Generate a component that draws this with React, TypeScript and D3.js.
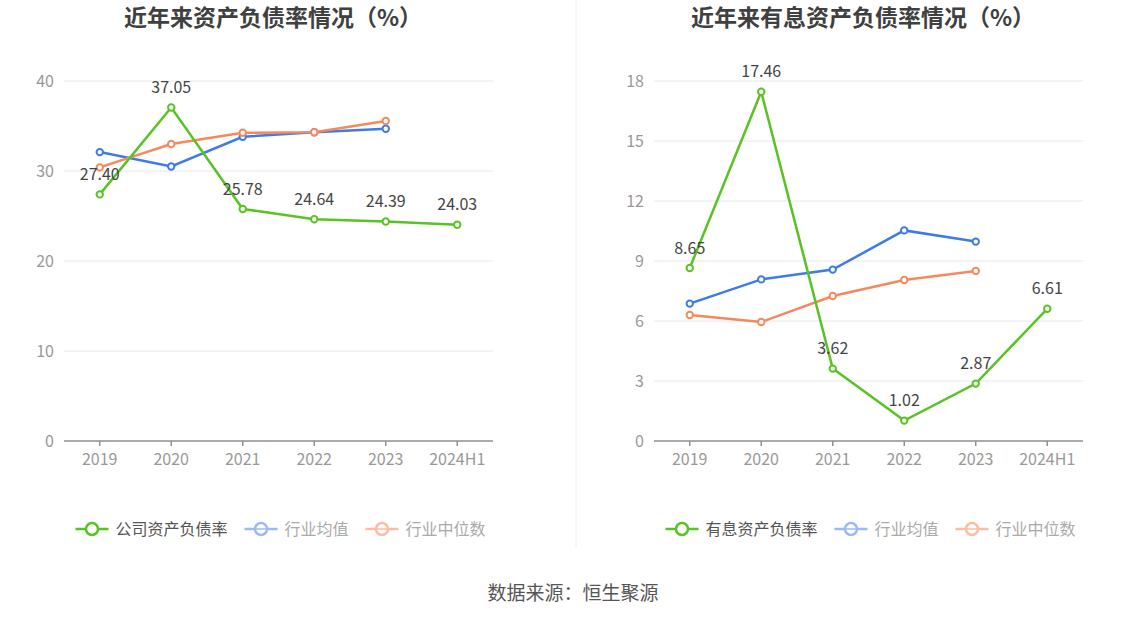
import React from "react";
import * as d3 from "d3";

const years = ["2019", "2020", "2021", "2022", "2023", "2024H1"];

// 左图：资产负债率
const debtRatio = [27.4, 37.05, 25.78, 24.64, 24.39, 24.03];
const debtAvg = [32.1, 30.5, 33.8, 34.3, 34.7];
const debtMedian = [30.4, 33.0, 34.25, 34.3, 35.55];
const debtTicks = [0, 10, 20, 30, 40];

// 右图：有息资产负债率
const interestRatio = [8.65, 17.46, 3.62, 1.02, 2.87, 6.61];
const interestAvg = [6.87, 8.08, 8.57, 10.53, 9.97];
const interestMedian = [6.3, 5.95, 7.25, 8.05, 8.5];
const interestTicks = [0, 3, 6, 9, 12, 15, 18];

const GREEN = "#58c322";
const BLUE = "#3d7be8";
const ORANGE = "#f6895c";
const FONT = "'Noto Sans CJK SC', 'Noto Sans', sans-serif";

interface PanelProps {
  x0: number;
  title: string;
  titleX: number;
  mainName: string;
  main: number[];
  avg: number[];
  median: number[];
  ticks: number[];
}

function Panel({ x0, title, titleX, mainName, main, avg, median, ticks }: PanelProps) {
  const top = 81;
  const bottom = 441;
  const width = 429;
  const x = d3.scaleBand<string>().domain(years).range([x0, x0 + width]);
  const cx = (i: number) => (x(years[i]) as number) + x.bandwidth() / 2;
  const y = d3.scaleLinear().domain([0, ticks[ticks.length - 1]]).range([bottom, top]);

  const line = d3
    .line<number>()
    .x((_, i) => cx(i))
    .y((d) => y(d));

  const series = [
    { data: avg, color: BLUE },
    { data: median, color: ORANGE },
    { data: main, color: GREEN },
  ];

  const legendItems = [
    { name: mainName, color: GREEN, text: "#555", faded: false },
    { name: "行业均值", color: "#9cbaf4", text: "#aaa", faded: true },
    { name: "行业中位数", color: "#fbbda3", text: "#aaa", faded: true },
  ];
  const fs = 16;
  const itemW = legendItems.map((d) => 40 + d.name.length * fs);
  const total = d3.sum(itemW) + 17 * (legendItems.length - 1);
  let lx = x0 + width / 2 + 2 - total / 2;
  const legendPos = itemW.map((w) => {
    const p = lx;
    lx += w + 17;
    return p;
  });

  return (
    <g>
      <text
        x={titleX}
        y={18}
        dy="0.35em"
        textAnchor="middle"
        fontSize={23}
        fontWeight="bold"
        fill="#404040"
      >
        {title}
      </text>
      {ticks.map((t) => (
        <g key={t}>
          {t !== 0 && (
            <line x1={x0} x2={x0 + width} y1={y(t)} y2={y(t)} stroke="#e4e8f2" strokeWidth={1} />
          )}
          <text x={x0 - 10} y={y(t)} dy="0.35em" textAnchor="end" fontSize={16} fill="#999">
            {t}
          </text>
        </g>
      ))}
      <line x1={x0} x2={x0 + width} y1={bottom} y2={bottom} stroke="#8e8e9a" strokeWidth={1.5} />
      {years.map((yr, i) => (
        <g key={yr}>
          <line x1={cx(i)} x2={cx(i)} y1={bottom} y2={bottom + 5} stroke="#8e8e9a" strokeWidth={1.5} />
          <text x={cx(i)} y={bottom + 18} dy="0.35em" textAnchor="middle" fontSize={16} fill="#999">
            {yr}
          </text>
        </g>
      ))}
      {series.map((s, k) => (
        <g key={k}>
          <path d={line(s.data) || ""} fill="none" stroke={s.color} strokeWidth={2.5} />
          {s.data.map((v, i) => (
            <circle key={i} cx={cx(i)} cy={y(v)} r={3.2} fill="#fff" stroke={s.color} strokeWidth={2} />
          ))}
        </g>
      ))}
      {main.map((v, i) => (
        <text
          key={i}
          x={cx(i)}
          y={y(v) - 20}
          dy="0.35em"
          textAnchor="middle"
          fontSize={16}
          fill="#444"
        >
          {v.toFixed(2)}
        </text>
      ))}
      {legendItems.map((d, i) => {
        const p = legendPos[i];
        const ly = 529;
        return (
          <g key={d.name}>
            <line x1={p} x2={p + 33} y1={ly} y2={ly} stroke={d.color} strokeWidth={2.5} />
            <circle cx={p + 16.5} cy={ly} r={6} fill="#fff" stroke={d.color} strokeWidth={2.5} />
            {d.faded && <line x1={p + 11} x2={p + 22} y1={ly} y2={ly} stroke={d.color} strokeWidth={1.5} />}
            <text x={p + 40} y={ly} dy="0.35em" fontSize={fs} fill={d.text}>
              {d.name}
            </text>
          </g>
        );
      })}
    </g>
  );
}

export default function App() {
  return (
    <div style={{ position: "fixed", left: 0, top: 0 }}>
      <svg width={1147} height={619} fontFamily={FONT} style={{ display: "block", background: "#fff" }}>
        <line x1={576} x2={576} y1={0} y2={548} stroke="#eeeeee" strokeWidth={1} />
        <Panel
          x0={64}
          title="近年来资产负债率情况（%）"
          titleX={273}
          mainName="公司资产负债率"
          main={debtRatio}
          avg={debtAvg}
          median={debtMedian}
          ticks={debtTicks}
        />
        <Panel
          x0={654}
          title="近年来有息资产负债率情况（%）"
          titleX={863}
          mainName="有息资产负债率"
          main={interestRatio}
          avg={interestAvg}
          median={interestMedian}
          ticks={interestTicks}
        />
        <text x={573} y={593} dy="0.35em" textAnchor="middle" fontSize={19} fill="#555">
          数据来源：恒生聚源
        </text>
      </svg>
    </div>
  );
}
